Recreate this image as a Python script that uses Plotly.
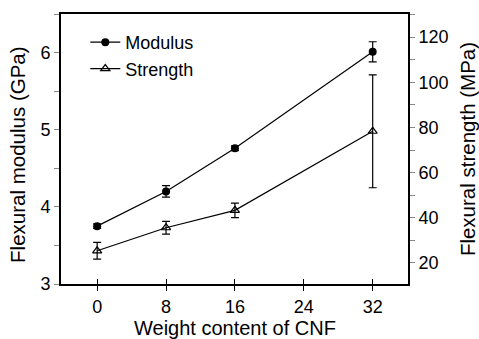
import plotly.graph_objects as go

cnf = [0, 8, 16, 32]
modulus = [3.75, 4.20, 4.76, 6.01]
modulus_err = [0.03, 0.075, 0.03, 0.13]
strength = [25.4, 35.6, 43.3, 78.3]
strength_err = [3.7, 2.8, 3.2, 25.0]
x_ticks = [0, 8, 16, 24, 32]

FONT = "Liberation Sans, Arial, sans-serif"

fig = go.Figure()
fig.add_trace(go.Scatter(
    x=cnf, y=modulus, name="Modulus", mode="lines+markers",
    line=dict(color="black", width=1.2),
    marker=dict(symbol="circle", size=8, color="black"),
    error_y=dict(type="data", array=modulus_err, color="black", thickness=1.2, width=4),
    yaxis="y"))
fig.add_trace(go.Scatter(
    x=cnf, y=strength, name="Strength", mode="lines+markers",
    line=dict(color="black", width=1.2),
    marker=dict(symbol="triangle-up-open", size=8, color="black", line=dict(width=1.2)),
    error_y=dict(type="data", array=strength_err, color="black", thickness=1.2, width=4),
    yaxis="y2"))
# invisible trace for inner x ticks
fig.add_trace(go.Scatter(x=[cnf[0]], y=[modulus[0]], xaxis="x2", yaxis="y",
                         mode="markers", marker=dict(opacity=0), showlegend=False,
                         hoverinfo="skip"))

fig.update_layout(
    width=479, height=339,
    margin=dict(l=61, r=71, t=14, b=55),
    paper_bgcolor="white", plot_bgcolor="white",
    font=dict(family=FONT, size=18, color="black"),
    showlegend=True,
    legend=dict(x=0.07, y=0.963, xanchor="left", yanchor="top",
                bgcolor="rgba(0,0,0,0)", font=dict(size=18),
                itemwidth=30, tracegroupgap=0),
    xaxis=dict(range=[-4.2, 36.1], tickvals=x_ticks, ticks="outside", ticklen=5,
               tickwidth=1, tickcolor="black", showgrid=False, zeroline=False,
               showline=True, linecolor="black", linewidth=2, mirror=True,
               automargin=False, ticklabelstandoff=0,
               tickfont=dict(size=18)),
    xaxis2=dict(range=[-4.2, 36.1], overlaying="x", side="bottom", tickvals=x_ticks,
                ticks="inside", ticklen=5, tickwidth=1, tickcolor="black",
                showticklabels=False, showgrid=False, zeroline=False, showline=False,
                automargin=False),
    yaxis=dict(range=[3, 6.5], tickvals=[3, 4, 5, 6], ticks="outside", ticklen=5,
               tickwidth=1, tickcolor="#888", showgrid=False, zeroline=False,
               showline=True, linecolor="black", linewidth=2, automargin=False,
               minor=dict(tickvals=[3.5, 4.5, 5.5, 6.5], ticks="outside", ticklen=5,
                          tickcolor="#888", tickwidth=1),
               tickfont=dict(size=18)),
    yaxis2=dict(range=[10.7, 130.2], overlaying="y", side="right",
                tickvals=[20, 40, 60, 80, 100, 120], ticks="outside", ticklen=5,
                tickwidth=1, tickcolor="#888", showgrid=False, zeroline=False,
                showline=True, linecolor="black", linewidth=2, automargin=False,
                minor=dict(tickvals=[30, 50, 70, 90, 110, 130], ticks="outside",
                           ticklen=5, tickcolor="#888", tickwidth=1),
                title=dict(text="Flexural strength (MPa)", font=dict(size=20.5)),
                tickfont=dict(size=18)),
    annotations=[
        dict(text="Flexural modulus (GPa)", xref="paper", yref="paper",
             x=-0.124, y=0.478, xanchor="center", yanchor="middle",
             textangle=-90, showarrow=False, font=dict(size=20.5)),
        dict(text="Weight content of CNF", xref="paper", yref="paper",
             x=0.5, y=-0.163, xanchor="center", yanchor="middle",
             showarrow=False, font=dict(size=20)),
    ],
)

fig.write_html("out.html")
